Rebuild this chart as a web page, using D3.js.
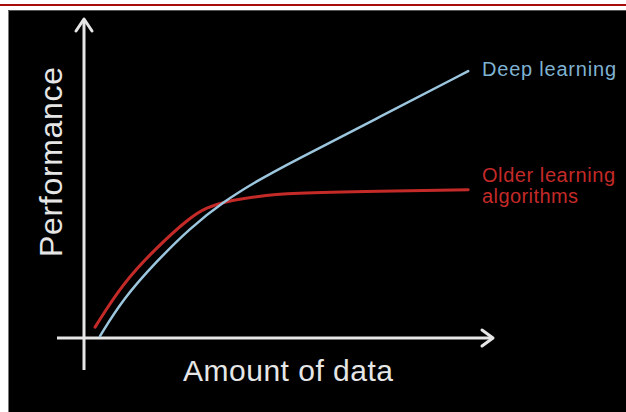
<!DOCTYPE html>
<html>
<head>
<meta charset="utf-8">
<script src="https://cdn.jsdelivr.net/npm/d3@7"></script>
<style>
  html, body { margin: 0; background: #fff; overflow: hidden; }
  svg { display: block; }
</style>
</head>
<body>
<svg id="chart"></svg>
<script>
// amount of data (arbitrary units) vs performance
const deepX = [0.39, 0.95, 1.78, 2.59, 3.39, 4.22, 5.02, 7.22, 9.37]
const deepY = [0.06, 1.22, 2.41, 3.44, 4.25, 4.91, 5.47, 6.91, 8.34]
const olderX = [0.27, 0.95, 1.78, 2.59, 3.0, 3.39, 4.22, 5.02, 7.22, 9.37]
const olderY = [0.34, 1.72, 2.84, 3.78, 4.08, 4.25, 4.43, 4.53, 4.59, 4.63]
const seriesNames = ['Deep learning', ['Older learning', 'algorithms']]
const axisTitles = ['Amount of data', 'Performance']

const width = 626
const height = 412
const font = "'Liberation Sans', Arial, Helvetica, sans-serif"
const svg = d3.select('#chart').attr('width', width).attr('height', height)
  .attr('font-family', font)

// slide frame
svg.append('line')
  .attr('x1', 0).attr('x2', width).attr('y1', 5).attr('y2', 5)
  .attr('stroke', '#a80c0c').attr('stroke-width', 2)
svg.append('rect')
  .attr('x', 8).attr('y', 10).attr('width', width - 8).attr('height', height - 10)
  .attr('fill', '#000')
svg.append('line')
  .attr('x1', 8.5).attr('x2', 8.5).attr('y1', 10).attr('y2', height)
  .attr('stroke', '#777').attr('stroke-width', 1)
svg.append('line')
  .attr('x1', 8).attr('x2', width).attr('y1', 10.5).attr('y2', 10.5)
  .attr('stroke', '#555').attr('stroke-width', 1)

const x = d3.scaleLinear().domain([0, 10]).range([84, 494])
const y = d3.scaleLinear().domain([0, 10]).range([338, 18])

const axisColor = '#e6e6e6'

// axes with arrow heads
svg.append('line')
  .attr('x1', x(0)).attr('x2', x(0)).attr('y1', 370).attr('y2', y(10) + 2)
  .attr('stroke', axisColor).attr('stroke-width', 3)
svg.append('line')
  .attr('x1', 57).attr('x2', x(10) - 2).attr('y1', y(0)).attr('y2', y(0))
  .attr('stroke', axisColor).attr('stroke-width', 3)

svg.append('path')
  .attr('d', `M${x(0) - 8},${y(10) + 13} L${x(0)},${y(10) + 1} L${x(0) + 8},${y(10) + 13}`)
  .attr('fill', 'none').attr('stroke', axisColor).attr('stroke-width', 3)
  .attr('stroke-linejoin', 'round').attr('stroke-linecap', 'round')
svg.append('path')
  .attr('d', `M${x(10) - 12},${y(0) - 8} L${x(10) - 1},${y(0)} L${x(10) - 12},${y(0) + 8}`)
  .attr('fill', 'none').attr('stroke', axisColor).attr('stroke-width', 3)
  .attr('stroke-linejoin', 'round').attr('stroke-linecap', 'round')

// curves
const line = d3.line()
  .x(d => x(d[0]))
  .y(d => y(d[1]))
  .curve(d3.curveBasis)

const olderColor = '#c42a28'
const deepColor = '#9cc6de'

svg.append('path')
  .datum(d3.zip(olderX, olderY))
  .attr('d', line)
  .attr('fill', 'none')
  .attr('stroke', olderColor)
  .attr('stroke-width', 3)
  .attr('stroke-linecap', 'round')

svg.append('path')
  .datum(d3.zip(deepX, deepY))
  .attr('d', line)
  .attr('fill', 'none')
  .attr('stroke', deepColor)
  .attr('stroke-width', 2.5)
  .attr('stroke-linecap', 'round')

// series labels
svg.append('text')
  .attr('x', 482).attr('y', 76)
  .attr('fill', '#7fb2d2')
  .attr('font-size', 20)
  .attr('textLength', 134)
  .text(seriesNames[0])

svg.append('text')
  .attr('x', 482).attr('y', 182)
  .attr('fill', olderColor)
  .attr('font-size', 20)
  .attr('textLength', 133)
  .text(seriesNames[1][0])
svg.append('text')
  .attr('x', 482).attr('y', 203)
  .attr('fill', olderColor)
  .attr('font-size', 20)
  .attr('textLength', 96)
  .text(seriesNames[1][1])

// axis titles
svg.append('text')
  .attr('x', 183).attr('y', 381)
  .attr('fill', axisColor)
  .attr('font-size', 30)
  .attr('textLength', 210)
  .text(axisTitles[0])

svg.append('text')
  .attr('transform', 'translate(62,257) rotate(-90)')
  .attr('fill', axisColor)
  .attr('font-size', 32)
  .attr('textLength', 190)
  .text(axisTitles[1])
</script>
</body>
</html>
